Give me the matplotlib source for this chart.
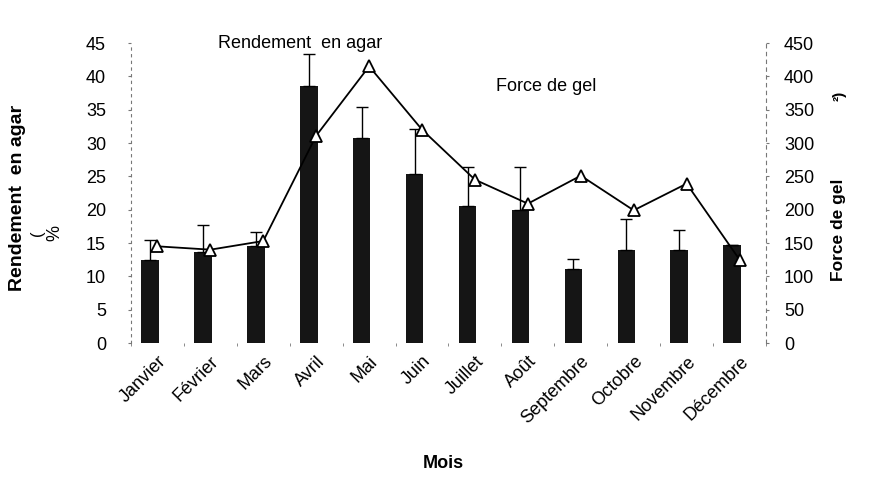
import numpy as np
import matplotlib
matplotlib.use("Agg")
import matplotlib.pyplot as plt

plt.rcParams["font.family"] = ["Liberation Sans", "DejaVu Sans"]

months = ["Janvier", "Février", "Mars", "Avril", "Mai", "Juin", "Juillet",
          "Août", "Septembre", "Octobre", "Novembre", "Décembre"]
rendement = [12.5, 13.6, 14.6, 38.5, 30.8, 25.4, 20.5, 19.9, 11.1, 14.0, 14.0, 14.7]
rendement_err = [3.0, 4.1, 2.0, 4.9, 4.6, 6.7, 5.9, 6.5, 1.5, 4.6, 3.0, 0.0]
force_gel = [145, 140, 153, 311, 415, 320, 245, 209, 251, 199, 239, 125]

W, H = 879, 500
fig = plt.figure(figsize=(W / 100, H / 100), dpi=100)
ax = fig.add_axes([131 / W, 1 - 343 / H, (766 - 131) / W, (343 - 43) / H])
ax2 = ax.twinx()

x = np.arange(len(months))
ax.bar(x - 0.14, rendement, width=0.33, color="#151515", zorder=2)
ax.errorbar(x - 0.14, rendement, yerr=[np.zeros(len(x)), rendement_err],
            fmt="none", ecolor="black", elinewidth=1.0, capsize=4,
            capthick=1.0, zorder=3)
ax2.plot(x, force_gel, color="black", lw=1.3, marker="^", ms=8,
         mfc="white", mec="black", mew=1.3, zorder=4)

ax.set_xlim(-0.5, len(months) - 0.5)
ax.set_ylim(0, 45)
ax2.set_ylim(0, 450)
ax.set_yticks(np.arange(0, 46, 5))
ax2.set_yticks(np.arange(0, 451, 50))

ax.set_xticks(x)
ax.set_xticklabels(months, rotation=45, ha="right", rotation_mode="anchor",
                   fontsize=13)
ax.set_xticks(np.arange(-0.5, len(months), 1.0), minor=True)
ax.tick_params(axis="x", which="major", length=0, pad=7)
ax.tick_params(axis="x", which="minor", length=2, color="#777777", direction="out")
ax.tick_params(axis="y", length=2, color="#777777", labelsize=13, pad=16)
ax2.tick_params(axis="y", length=2, color="#777777", labelsize=13, pad=11)

for a in (ax, ax2):
    for s in ("top", "bottom"):
        a.spines[s].set_visible(False)
ax.spines["right"].set_visible(False)
ax2.spines["left"].set_visible(False)
ax.spines["left"].set_linestyle((0, (2, 4)))
ax.spines["left"].set_color("#777777")
ax.spines["left"].set_linewidth(0.8)
ax2.spines["right"].set_linestyle((0, (3, 4)))
ax2.spines["right"].set_color("#777777")
ax2.spines["right"].set_linewidth(0.8)

# labels placed as in the scanned figure
fig.text(18 / W, 1 - 198 / H, "Rendement  en agar", rotation=90, ha="center",
         va="center", fontsize=14, fontweight="bold")
fig.text(38 / W, 1 - 233 / H, "(", rotation=90, ha="center", va="center",
         fontsize=12)
fig.text(55 / W, 1 - 233 / H, "%", rotation=90, ha="center", va="center",
         fontsize=13)
fig.text(839 / W, 1 - 230 / H, "Force de gel", rotation=90, ha="center",
         va="center", fontsize=12.5, fontweight="bold")
fig.text(840 / W, 1 - 96 / H, "²)", rotation=90, ha="center", va="center",
         fontsize=11, fontweight="bold")
fig.text(443 / W, 1 - 464 / H, "Mois", ha="center", va="center",
         fontsize=13, fontweight="bold")
fig.text(300 / W, 1 - 44 / H, "Rendement  en agar", ha="center", va="center",
         fontsize=13)
fig.text(546 / W, 1 - 87 / H, "Force de gel", ha="center", va="center",
         fontsize=13)

fig.savefig("out.png", dpi=100)
